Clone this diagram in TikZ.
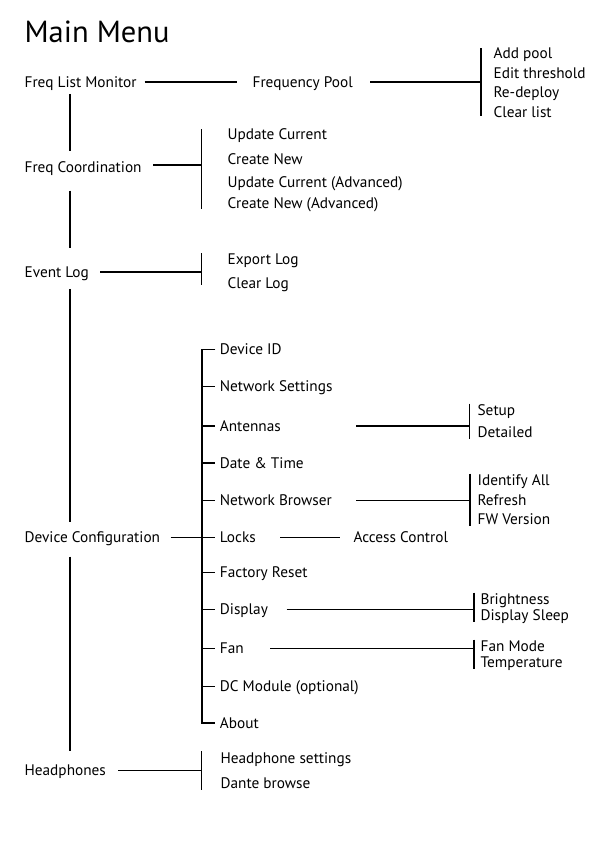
\documentclass[tikz,border=0pt]{standalone}
\usepackage{fontspec}
\setmainfont{PT Sans}

\begin{document}
\begin{tikzpicture}[x=1pt, y=-1pt, line width=1.2pt]
    % Define styles for menu entries
    \tikzset{
        entry/.style={anchor=base west, inner sep=0pt, text height=11pt, text depth=1pt, font=\fontsize{15.3}{18}\selectfont},
        heading/.style={anchor=base west, inner sep=0pt, font=\fontsize{30.5}{36}\selectfont}
    }
    \useasboundingbox (0,0) rectangle (607,852);

    % Title
    \node[heading] (title) at (24,42) {Main Menu};

    % MAIN COLUMN
    \coordinate (spine) at (70,0);
    \node[entry] (flm) at (24,87) {Freq List Monitor};
    \node[entry] (fc) at (24,172) {Freq Coordination};
    \node[entry] (el) at (24,277) {Event Log};
    \node[entry] (dc) at (24,542.3) {Device Configuration};
    \node[entry] (hp) at (24,775.3) {Headphones};

    % Spine lines
    \foreach \a/\b/\s/\e in {flm/fc/5.3/9.3, fc/el/17/17.7, el/dc/10.3/8.3, dc/hp/12.7/12.6}
        \draw[shorten <=\s pt, shorten >=\e pt] (\a.south -| spine) -- (\b.north -| spine);

    % FREQ LIST MONITOR
    \node[entry] (fp) at (252,87) {Frequency Pool};
    \coordinate (fpbar) at (481,0);
    \node[entry] (ap) at (493,58.5) {Add pool};
    \node[entry] (et) at (493,78) {Edit threshold};
    \node[entry] (rd) at (493,97.5) {Re-deploy};
    \node[entry] (cl) at (493,117) {Clear list};
    \draw[shorten <=7.5pt, shorten >=15pt] (flm.east) -- (fp.west);
    \draw[shorten <=17pt] (fp.east) -- (fpbar |- fp.east);
    \draw[shorten <=1.5pt, shorten >=3pt] (fpbar |- ap.north) -- (fpbar |- cl.south);

    % FREQ COORDINATION
    \coordinate (fcbar) at (201.5,0);
    \node[entry] (uc) at (227,139.3) {Update Current};
    \node[entry] (cn) at (227,164) {Create New};
    \node[entry] (uca) at (227,187) {Update Current (Advanced)};
    \node[entry] (cna) at (227,208.6) {Create New (Advanced)};
    \draw[shorten <=11pt] ([yshift=2pt]fc.east) -- ([yshift=2pt]fcbar |- fc.east);
    \draw[shorten <=1.5pt, shorten >=1.3pt] (fcbar |- uc.north) -- (fcbar |- cna.south);

    % EVENT LOG
    \coordinate (elbar) at (201.5,0);
    \node[entry] (xl) at (227,264.6) {Export Log};
    \node[entry] (cg) at (227,288) {Clear Log};
    \draw[shorten <=11pt] (el.east) -- (elbar |- el.east);
    \draw[shorten >=4.7pt] (elbar |- xl.north) -- (elbar |- cg.south);

    % DEVICE CONFIGURATION
    \coordinate (dcbar) at (202,0);
    \node[entry] (did) at (219.3,354.3) {Device ID};
    \node[entry] (ns) at (219.3,391.3) {Network Settings};
    \node[entry] (ant) at (219.3,431) {Antennas};
    \node[entry] (dt) at (219.3,468) {Date \& Time};
    \node[entry] (nb) at (219.3,505.3) {Network Browser};
    \node[entry] (lk) at (219.3,542.3) {Locks};
    \node[entry] (fr) at (219.3,577.3) {Factory Reset};
    \node[entry] (disp) at (219.3,614.5) {Display};
    \node[entry] (fan) at (219.3,653.6) {Fan};
    \node[entry] (dcm) at (219.3,691.3) {DC Module (optional)};
    \node[entry] (ab) at (219.3,728) {About};
    \draw[shorten <=10pt] (dc.east) -- (dcbar |- dc.east);
    \draw ([xshift=-4pt]did.west) -| (dcbar |- ab.west) -- ([xshift=-4pt]ab.west);
    \foreach \n in {ns, ant, dt, nb, lk, fr, disp, fan, dcm}
        \draw[shorten >=4pt] (dcbar |- \n.west) -- (\n.west);

    % Antennas
    \coordinate (antbar) at (469.5,0);
    \node[entry] (su) at (477,415.3) {Setup};
    \node[entry] (de) at (477,437.3) {Detailed};
    \draw[shorten <=75pt] (ant.east) -- (antbar |- ant.east);
    \draw (antbar |- su.north) -- (antbar |- de.south);

    % Network Browser
    \coordinate (nbbar) at (470,0);
    \node[entry] (ia) at (477,485.3) {Identify All};
    \node[entry] (rf) at (477,505.3) {Refresh};
    \node[entry] (fw) at (477,524.3) {FW Version};
    \draw[shorten <=24pt] (nb.east) -- (nbbar |- nb.east);
    \draw (nbbar |- ia.north) -- (nbbar |- fw.south);

    % Locks
    \node[entry] (ac) at (353,542.3) {Access Control};
    \draw[shorten <=24pt, shorten >=13pt] (lk.east) -- (ac.west);

    % Display
    \coordinate (dispbar) at (474,0);
    \node[entry] (br) at (480,604.3) {Brightness};
    \node[entry] (ds) at (480,620) {Display Sleep};
    \draw[shorten <=18pt] (disp.east) -- (dispbar |- disp.east);
    \draw (dispbar |- br.north) -- (dispbar |- ds.south);

    % Fan
    \coordinate (fanbar) at (474,0);
    \node[entry] (fm) at (480,651.3) {Fan Mode};
    \node[entry] (tp) at (480,667.3) {Temperature};
    \draw[shorten <=26pt] (fan.east) -- (fanbar |- fan.east);
    \draw (fanbar |- fm.north) -- (fanbar |- tp.south);

    % HEADPHONES
    \coordinate (hpbar) at (201.6,0);
    \node[entry] (hs) at (220,763) {Headphone settings};
    \node[entry] (db) at (220,788) {Dante browse};
    \draw[shorten <=11.5pt] (hp.east) -- (hpbar |- hp.east);
    \draw (hpbar |- hs.north) -- (hpbar |- db.south);

\end{tikzpicture}
\end{document}
